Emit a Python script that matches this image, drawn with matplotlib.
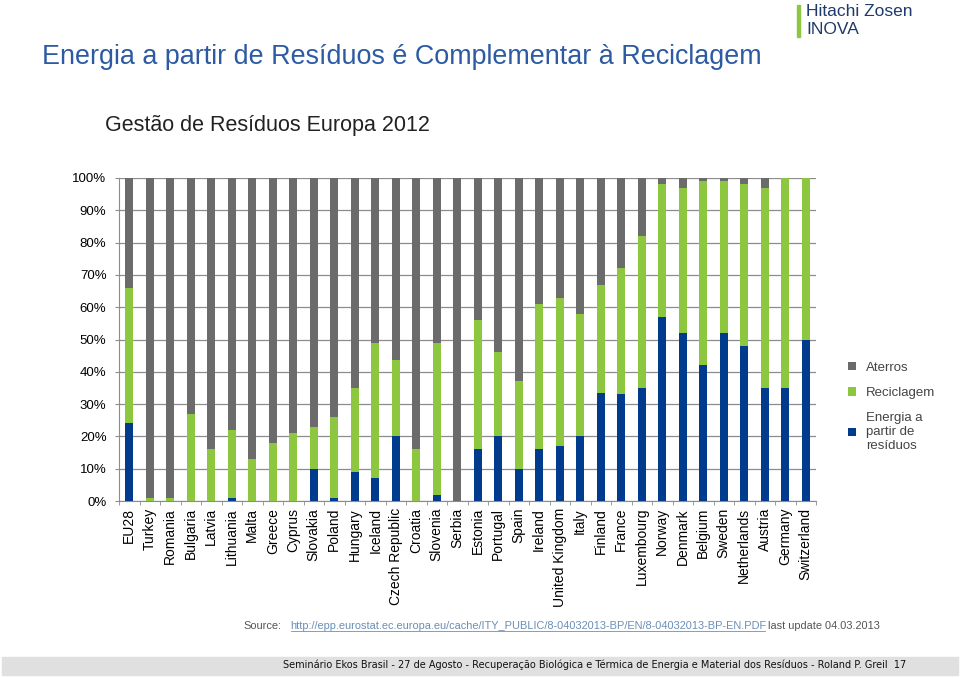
import matplotlib
matplotlib.use('Agg')
from matplotlib import pyplot as plt
from matplotlib.patches import Rectangle
from matplotlib.lines import Line2D
import numpy as np

plt.rcParams['font.family'] = ['Liberation Sans', 'DejaVu Sans']

countries = ['EU28', 'Turkey', 'Romania', 'Bulgaria', 'Latvia', 'Lithuania', 'Malta',
             'Greece', 'Cyprus', 'Slovakia', 'Poland', 'Hungary', 'Iceland',
             'Czech Republic', 'Croatia', 'Slovenia', 'Serbia', 'Estonia', 'Portugal',
             'Spain', 'Ireland', 'United Kingdom', 'Italy', 'Finland', 'France',
             'Luxembourg', 'Norway', 'Denmark', 'Belgium', 'Sweden', 'Netherlands',
             'Austria', 'Germany', 'Switzerland']

# percentages
energia = [24, 0, 0, 0, 0, 1, 0, 0, 0, 10, 1, 9, 7, 20, 0, 2, 0,
           16, 20, 10, 16, 17, 20, 33.5, 33, 35, 57, 52, 42, 52, 48, 35, 35, 50]
reciclagem = [42, 1, 1, 27, 16, 21, 13, 18, 21, 13, 25, 26, 42, 23.5, 16, 47, 0,
              40, 26, 27, 45, 46, 38, 33.5, 39, 47, 41, 45, 57, 47, 50, 62, 65, 50]
aterros = [100 - e - r for e, r in zip(energia, reciclagem)]

c_aterros = '#6b6b6b'
c_recic = '#8dc63f'
c_energia = '#003b8e'

fig = plt.figure(figsize=(9.6, 6.78), dpi=100)

fig.text(42 / 960, 1 - 57 / 678, 'Energia a partir de Resíduos é Complementar à Reciclagem',
         fontsize=19.4, color='#2d5ba3', va='center', ha='left')
fig.text(105 / 960, 1 - 126 / 678, 'Gestão de Resíduos Europa 2012',
         fontsize=15.5, color='#222222', va='center', ha='left')

# logo
fig.patches.append(Rectangle((797 / 960, 1 - 37 / 678), 3 / 960, 32 / 678,
                             transform=fig.transFigure, color='#8dc63f'))
fig.text(806 / 960, 1 - 12 / 678, 'Hitachi Zosen', fontsize=12.5, color='#1f3a6b',
         va='center', ha='left')
fig.text(806 / 960, 1 - 30 / 678, 'INOVA', fontsize=12.5, color='#1f3a6b',
         va='center', ha='left')

ax = fig.add_axes([119 / 960, 1 - 501 / 678, 697 / 960, 323 / 678])
x = np.arange(len(countries))
w = 0.4
ax.bar(x, energia, w, color=c_energia, label='Energia a\npartir de\nresíduos', zorder=3)
ax.bar(x, reciclagem, w, bottom=energia, color=c_recic, label='Reciclagem', zorder=3)
bot = [e + r for e, r in zip(energia, reciclagem)]
ax.bar(x, aterros, w, bottom=bot, color=c_aterros, label='Aterros', zorder=3)

ax.set_xlim(-0.5, len(countries) - 0.5)
ax.set_ylim(0, 100)
ax.set_yticks(range(0, 101, 10))
ax.set_yticklabels([f'{v}%' for v in range(0, 101, 10)], fontsize=9.5)
ax.yaxis.grid(True, color='#8c8c8c', linewidth=0.9, zorder=0)
ax.tick_params(axis='y', length=3, color='#8c8c8c', pad=6)

ax.set_xticks(x)
ax.set_xticklabels(countries, rotation=90, fontsize=10)
ax.set_xticks(np.arange(-0.5, len(countries), 1), minor=True)
ax.tick_params(axis='x', which='major', length=0, pad=5)
ax.tick_params(axis='x', which='minor', length=3, color='#8c8c8c')

for s in ['top', 'right']:
    ax.spines[s].set_visible(False)
ax.spines['left'].set_color('#8c8c8c')
ax.spines['bottom'].set_color('#8c8c8c')

handles, labels = ax.get_legend_handles_labels()
leg = fig.legend(handles[::-1], labels[::-1], loc='upper left',
                 bbox_to_anchor=(836 / 960, 1 - 350 / 678), frameon=False,
                 fontsize=9.5, handlelength=0.6, handleheight=0.6,
                 handletextpad=0.8, labelspacing=1.0)
for t in leg.get_texts():
    t.set_color('#444444')

# source line
src_y = 1 - 626 / 678
fig.text(243 / 960, src_y, 'Source:', fontsize=7.9, color='#555555', va='center')
fig.text(290 / 960, src_y,
         'http://epp.eurostat.ec.europa.eu/cache/ITY_PUBLIC/8-04032013-BP/EN/8-04032013-BP-EN.PDF',
         fontsize=7.9, color='#6a8fb8', va='center')
fig.lines.append(Line2D([291 / 960, 765 / 960], [1 - 631 / 678, 1 - 631 / 678],
                        transform=fig.transFigure, color='#6a8fb8', linewidth=0.6))
fig.text(768 / 960, src_y, 'last update 04.03.2013', fontsize=7.9, color='#555555',
         va='center')

# footer band
fig.patches.append(Rectangle((2 / 960, 1 - 675 / 678), 956 / 960, 18 / 678,
                             transform=fig.transFigure, color='#e0e0e0'))
fig.text(906 / 960, 1 - 665 / 678,
         'Seminário Ekos Brasil - 27 de Agosto - Recuperação Biológica e Térmica de Energia e Material dos Resíduos - Roland P. Greil  17',
         fontsize=7, family='DejaVu Sans', color='#111111', va='center', ha='right')

fig.savefig('out.png', dpi=100)
